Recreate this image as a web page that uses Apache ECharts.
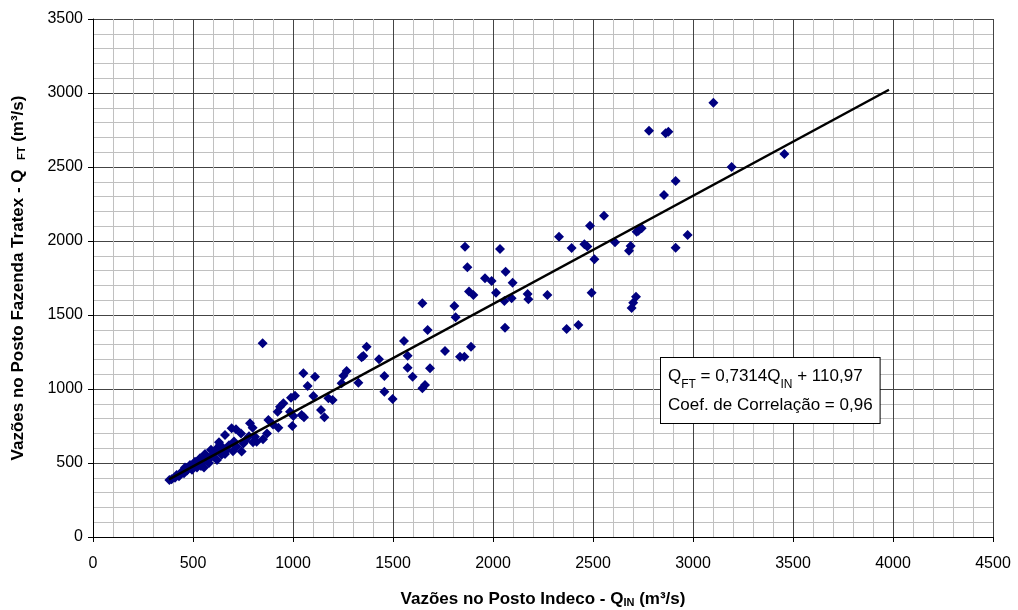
<!DOCTYPE html>
<html><head><meta charset="utf-8">
<script src="https://cdn.jsdelivr.net/npm/echarts@6/dist/echarts.min.js"></script>
<style>html,body{margin:0;padding:0;background:#fff}#c{width:1018px;height:610px}</style>
</head><body><div id="c"></div>
<script>
// Observed pairs [Q_IN, Q_FT] (m³/s)
var pointsHigh = [[3102,2934],[2780,2745],[2863,2728],[2877,2739],[3193,2500],[3457,2588],[2913,2405],[2855,2311],[2555,2171],[2610,1991],[2718,2063],[2743,2086],[2727,2070],[2688,1966],[2680,1934],[2913,1955],[2973,2041],[2715,1624],[2701,1583],[2693,1547],[2330,2029],[2485,2103],[2393,1953],[2457,1978],[2472,1962],[2507,1876],[2493,1651],[2368,1405],[2427,1432]];
var pointsMid = [[1860,1961],[2035,1946],[1872,1822],[2063,1793],[1960,1748],[1993,1730],[2098,1718],[1880,1658],[1902,1635],[2015,1651],[2057,1595],[2093,1613],[2173,1642],[2177,1606],[2272,1635],[1807,1561],[1813,1484],[2060,1414],[1760,1257],[1890,1286],[1835,1218],[1857,1218],[1647,1579],[1673,1399],[1555,1324],[1573,1225],[1685,1140],[1573,1144],[1598,1083],[1368,1286],[1352,1223],[1343,1214],[1430,1201],[1268,1122],[1252,1090],[1243,1039],[1327,1043],[1457,1088],[1457,982],[1498,932],[1647,1005],[1660,1027]];
var pointsLowMid = [[848,1309],[1052,1106],[1110,1083],[1073,1020],[1010,955],[990,941],[1102,953],[1177,937],[1198,926],[952,903],[935,880],[923,847],[985,847],[1043,824],[1055,809],[1002,818],[1140,858],[1157,809],[877,791],[785,768],[927,739],[997,750],[798,739],[870,700],[850,660],[900,760]];
var pointsLow = [[693,734],[715,728],[660,689],[810,678],[818,644],[743,577],[635,622],[618,588],[568,543],[535,532],[510,509],[485,486],[468,464],[443,441],[418,419],[393,390],[382,385],[600,556],[643,556],[668,588],[718,610],[752,632],[705,645],[620,600],[575,520],[545,500],[520,470],[495,455],[455,430],[430,410],[410,400],[470,450],[560,560],[590,540],[650,600],[680,620],[700,580],[760,650],[780,680],[620,520],[660,560],[555,470],[525,500],[460,470],[590,590],[630,640],[740,700],[800,640],[500,490],[540,480],[580,500]];
var trendLine = [[380,389],[3980,3022]];
var xTicks = [0,500,1000,1500,2000,2500,3000,3500,4000,4500];
var yTicks = [0,500,1000,1500,2000,2500,3000,3500];

var allPoints = pointsHigh.concat(pointsMid, pointsLowMid, pointsLow);
var chart = echarts.init(document.getElementById('c'), null, {renderer:'canvas'});
var FF = '"Liberation Sans", Arial, sans-serif';
var subRich = {
  b: {fontFamily: FF, fontSize: 17, fontWeight: 'bold', color: '#000'},
  s: {fontFamily: FF, fontSize: 11, fontWeight: 'bold', color: '#000', verticalAlign: 'bottom', padding: [6,0,0,0]}
};
function plain(v){ return String(v); }
chart.setOption({
  animation: false,
  backgroundColor: '#fff',
  grid: {left: 93, right: 25, top: 19, bottom: 73, containLabel: false, outerBoundsMode: 'none'},
  xAxis: {
    type: 'value', min: xTicks[0], max: xTicks[xTicks.length-1], interval: 500,
    name: '{b|Vazões no Posto Indeco - Q}{s|IN}{b| (m³/s)}',
    nameLocation: 'middle', nameGap: 54,
    nameTextStyle: {rich: subRich},
    axisLine: {show: true, onZero: false, lineStyle: {color: '#000', width: 1}},
    axisTick: {show: true, length: 5, lineStyle: {color: '#000'}},
    axisLabel: {fontFamily: FF, fontSize: 16, color: '#000', margin: 19, formatter: plain},
    splitLine: {show: true, lineStyle: {color: '#444', width: 1}},
    minorTick: {show: false, splitNumber: 5},
    minorSplitLine: {show: true, lineStyle: {color: '#c0c0c0', width: 1}}
  },
  yAxis: {
    type: 'value', min: yTicks[0], max: yTicks[yTicks.length-1], interval: 500,
    name: '{b|Vazões no Posto Fazenda Tratex - Q  }{s|FT}{b| (m³/s)}',
    nameLocation: 'middle', nameGap: 66, nameRotate: 90,
    nameTextStyle: {rich: subRich},
    axisLine: {show: true, onZero: false, lineStyle: {color: '#000', width: 1}},
    axisTick: {show: true, length: 5, lineStyle: {color: '#000'}},
    axisLabel: {fontFamily: FF, fontSize: 16, color: '#000', margin: 10, formatter: plain},
    splitLine: {show: true, lineStyle: {color: '#444', width: 1}},
    minorTick: {show: false, splitNumber: 5},
    minorSplitLine: {show: true, lineStyle: {color: '#c0c0c0', width: 1}}
  },
  series: [
    {type: 'scatter', data: allPoints, symbol: 'diamond', symbolSize: 10,
     itemStyle: {color: '#000080', opacity: 1}, z: 3},
    {type: 'line', data: trendLine, symbol: 'none', lineStyle: {color: '#000', width: 2.5}, z: 4}
  ],
  graphic: [{
    type: 'text', left: 660, top: 357, z: 10,
    style: {
      text: '{n|Q}{s|FT}{n| = 0,7314Q}{s|IN}{n| + 110,97}\n{n|Coef. de Correlação = 0,96}',
      rich: {
        n: {fontFamily: FF, fontSize: 17, color: '#000', lineHeight: 29},
        s: {fontFamily: FF, fontSize: 12, color: '#000', verticalAlign: 'bottom', lineHeight: 24}
      },
      backgroundColor: '#fff', borderColor: '#000', borderWidth: 1,
      padding: [4, 7, 3, 7]
    }
  }]
});
</script></body></html>
